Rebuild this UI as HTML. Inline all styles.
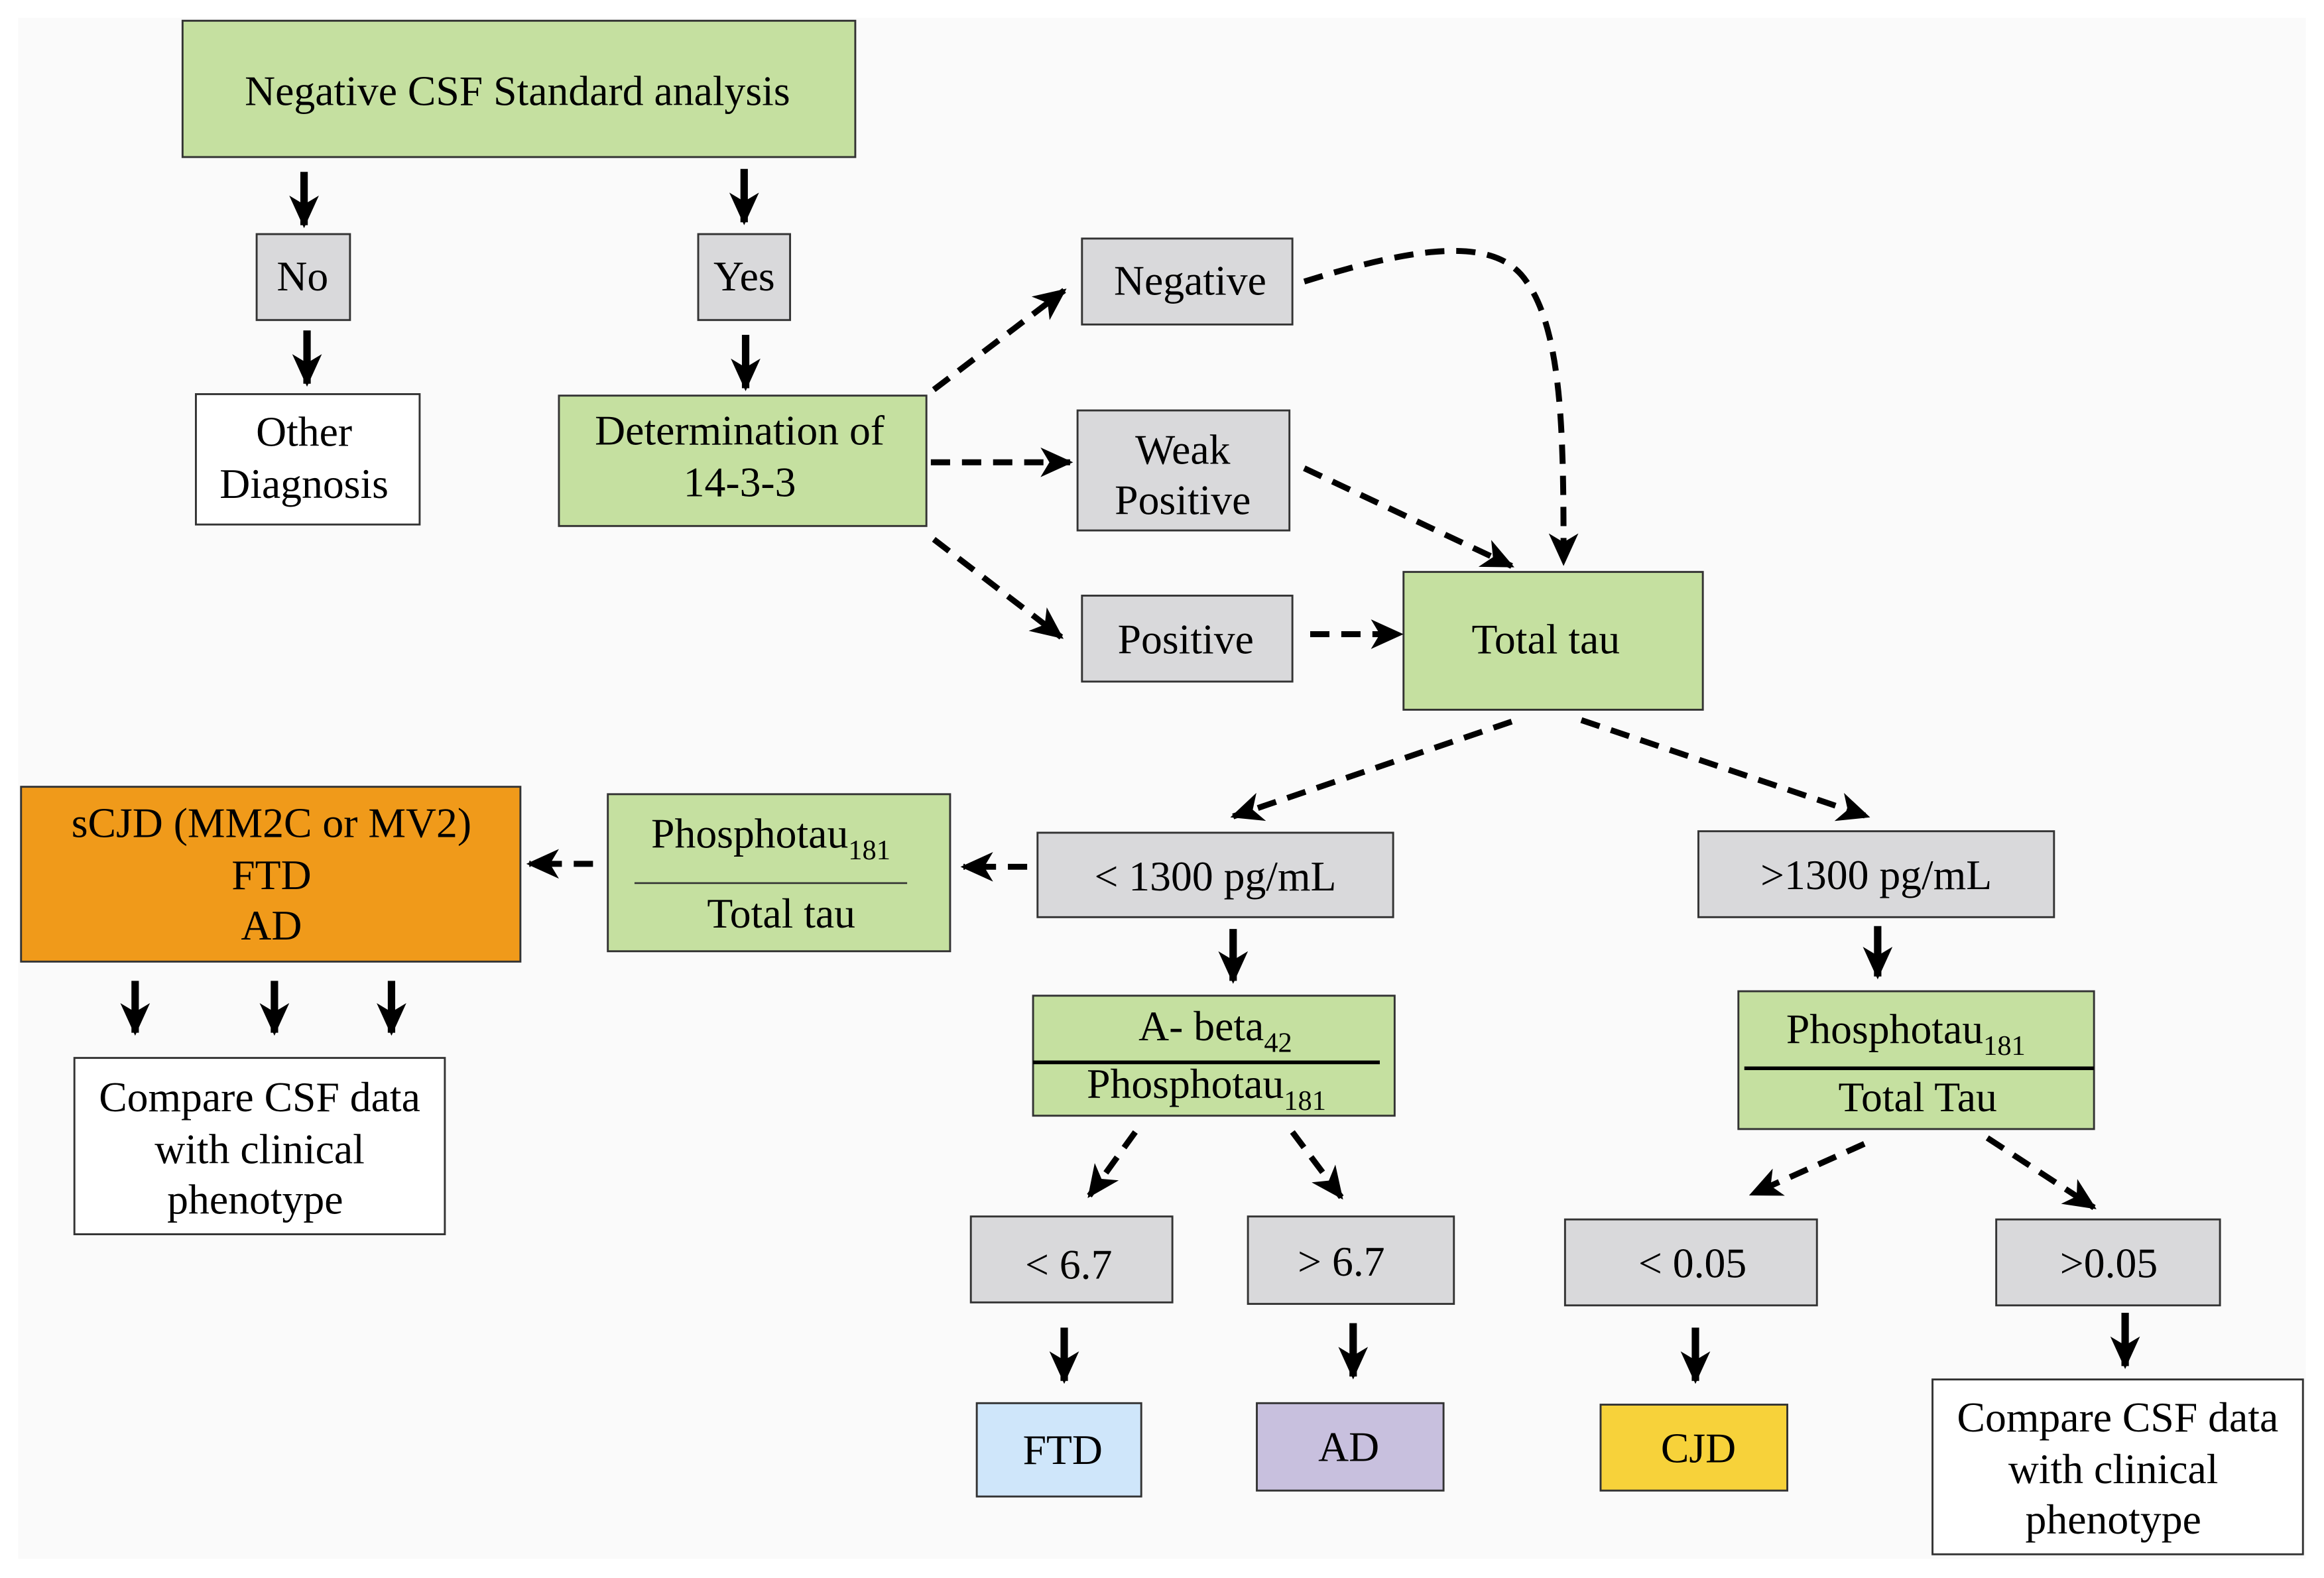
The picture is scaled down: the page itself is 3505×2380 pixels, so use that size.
<!DOCTYPE html>
<html><head><meta charset="utf-8"><style>html,body{margin:0;padding:0;background:#fff}svg{display:block}</style></head><body>
<svg width="3505" height="2380" viewBox="0 0 1568 1065" xmlns="http://www.w3.org/2000/svg" font-family="'Liberation Serif',serif" font-size="28.5" text-anchor="middle">
<defs>
<marker id="a" markerUnits="userSpaceOnUse" markerWidth="22" markerHeight="20" refX="20" refY="10" orient="auto"><path d="M0,0 L22,10 L0,20 L6,10 z" fill="#000"/></marker>
</defs>
<rect x="0" y="0" width="1568" height="1065" fill="#fff"/>
<rect x="12" y="12" width="1544" height="1040" fill="#fafafa"/>
<g stroke="#333" stroke-width="1.3">
<rect x="123" y="14" width="454" height="92" fill="#c5e0a0"/>
<rect x="173" y="158" width="63" height="58" fill="#d9d9db"/>
<rect x="471" y="158" width="62" height="58" fill="#d9d9db"/>
<rect x="132" y="266" width="151" height="88" fill="#fff"/>
<rect x="377" y="267" width="248" height="88" fill="#c5e0a0"/>
<rect x="730" y="161" width="142" height="58" fill="#d9d9db"/>
<rect x="727" y="277" width="143" height="81" fill="#d9d9db"/>
<rect x="730" y="402" width="142" height="58" fill="#d9d9db"/>
<rect x="947" y="386" width="202" height="93" fill="#c5e0a0"/>
<rect x="14" y="531" width="337" height="118" fill="#f09a1a"/>
<rect x="410" y="536" width="231" height="106" fill="#c5e0a0"/>
<rect x="700" y="562" width="240" height="57" fill="#d9d9db"/>
<rect x="1146" y="561" width="240" height="58" fill="#d9d9db"/>
<rect x="697" y="672" width="244" height="81" fill="#c5e0a0"/>
<rect x="1173" y="669" width="240" height="93" fill="#c5e0a0"/>
<rect x="50" y="714" width="250" height="119" fill="#fff"/>
<rect x="655" y="821" width="136" height="58" fill="#d9d9db"/>
<rect x="842" y="821" width="139" height="59" fill="#d9d9db"/>
<rect x="1056" y="823" width="170" height="58" fill="#d9d9db"/>
<rect x="1347" y="823" width="151" height="58" fill="#d9d9db"/>
<rect x="659" y="947" width="111" height="63" fill="#cfe6fa"/>
<rect x="848" y="947" width="126" height="59" fill="#c8c0de"/>
<rect x="1080" y="948" width="126" height="58" fill="#f7d23a"/>
<rect x="1304" y="931" width="250" height="118" fill="#fff"/>
</g>
<line x1="428" y1="596" x2="612" y2="596" stroke="#333" stroke-width="1.2"/>
<line x1="697" y1="717" x2="931" y2="717" stroke="#000" stroke-width="2.5"/>
<line x1="1177" y1="721" x2="1413" y2="721" stroke="#000" stroke-width="2.5"/>
<g fill="#000">
<text x="349" y="71">Negative CSF Standard analysis</text>
<text x="204" y="196">No</text>
<text x="502" y="196">Yes</text>
<text x="205" y="301">Other</text><text x="205" y="336">Diagnosis</text>
<text x="499" y="300">Determination of</text><text x="499" y="335">14-3-3</text>
<text x="803" y="199">Negative</text>
<text x="798" y="313">Weak</text><text x="798" y="347">Positive</text>
<text x="800" y="441">Positive</text>
<text x="1043" y="441">Total tau</text>
<text x="183" y="565">sCJD (MM2C or MV2)</text><text x="183" y="600">FTD</text><text x="183" y="634">AD</text>
<text x="520" y="572">Phosphotau<tspan font-size="19" dy="8">181</tspan></text>
<text x="527" y="626">Total tau</text>
<text x="820" y="601">&lt; 1300 pg/mL</text>
<text x="1266" y="600">&gt;1300 pg/mL</text>
<text x="820" y="702">A- beta<tspan font-size="19" dy="8">42</tspan></text>
<text x="814" y="741">Phosphotau<tspan font-size="19" dy="8">181</tspan></text>
<text x="1286" y="704">Phosphotau<tspan font-size="19" dy="8">181</tspan></text>
<text x="1294" y="750">Total Tau</text>
<text x="175" y="750">Compare CSF data</text><text x="175" y="785">with clinical</text><text x="172" y="819">phenotype</text>
<text x="721" y="863">&lt; 6.7</text>
<text x="905" y="861">&gt; 6.7</text>
<text x="1142" y="862">&lt; 0.05</text>
<text x="1423" y="862">&gt;0.05</text>
<text x="717" y="988">FTD</text>
<text x="910" y="986">AD</text>
<text x="1146" y="987">CJD</text>
<text x="1429" y="966">Compare CSF data</text><text x="1426" y="1001">with clinical</text><text x="1426" y="1035">phenotype</text>
</g>
<g stroke="#000" stroke-width="5" marker-end="url(#a)">
<line x1="205" y1="116" x2="205" y2="152"/>
<line x1="502" y1="114" x2="502" y2="150"/>
<line x1="207" y1="223" x2="207" y2="259"/>
<line x1="503" y1="226" x2="503" y2="262"/>
<line x1="91" y1="662" x2="91" y2="697"/>
<line x1="185" y1="662" x2="185" y2="697"/>
<line x1="264" y1="662" x2="264" y2="697"/>
<line x1="832" y1="627" x2="832" y2="662"/>
<line x1="1267" y1="625" x2="1267" y2="659"/>
<line x1="718" y1="896" x2="718" y2="932"/>
<line x1="913" y1="893" x2="913" y2="929"/>
<line x1="1144" y1="896" x2="1144" y2="932"/>
<line x1="1434" y1="886" x2="1434" y2="922"/>
</g>
<g stroke="#000" stroke-width="4" stroke-dasharray="13 8" fill="none" marker-end="url(#a)">
<line x1="630" y1="263" x2="718" y2="196"/>
<line x1="628" y1="312" x2="722" y2="312"/>
<line x1="630" y1="364" x2="716" y2="430"/>
<path d="M880,190 C960,165 1010,160 1030,190 C1055,225 1055,300 1055,380"/>
<line x1="880" y1="316" x2="1020" y2="382"/>
<line x1="884" y1="428" x2="945" y2="428"/>
<line x1="1020" y1="487" x2="832" y2="551"/>
<line x1="1067" y1="486" x2="1260" y2="551"/>
<line x1="693" y1="585" x2="650" y2="585"/>
<line x1="400" y1="583" x2="357" y2="583"/>
<line x1="766" y1="764" x2="735" y2="807"/>
<line x1="872" y1="764" x2="905" y2="808"/>
<line x1="1258" y1="772" x2="1182" y2="806"/>
<line x1="1341" y1="768" x2="1413" y2="815"/>
</g>
</svg>
</body></html>
